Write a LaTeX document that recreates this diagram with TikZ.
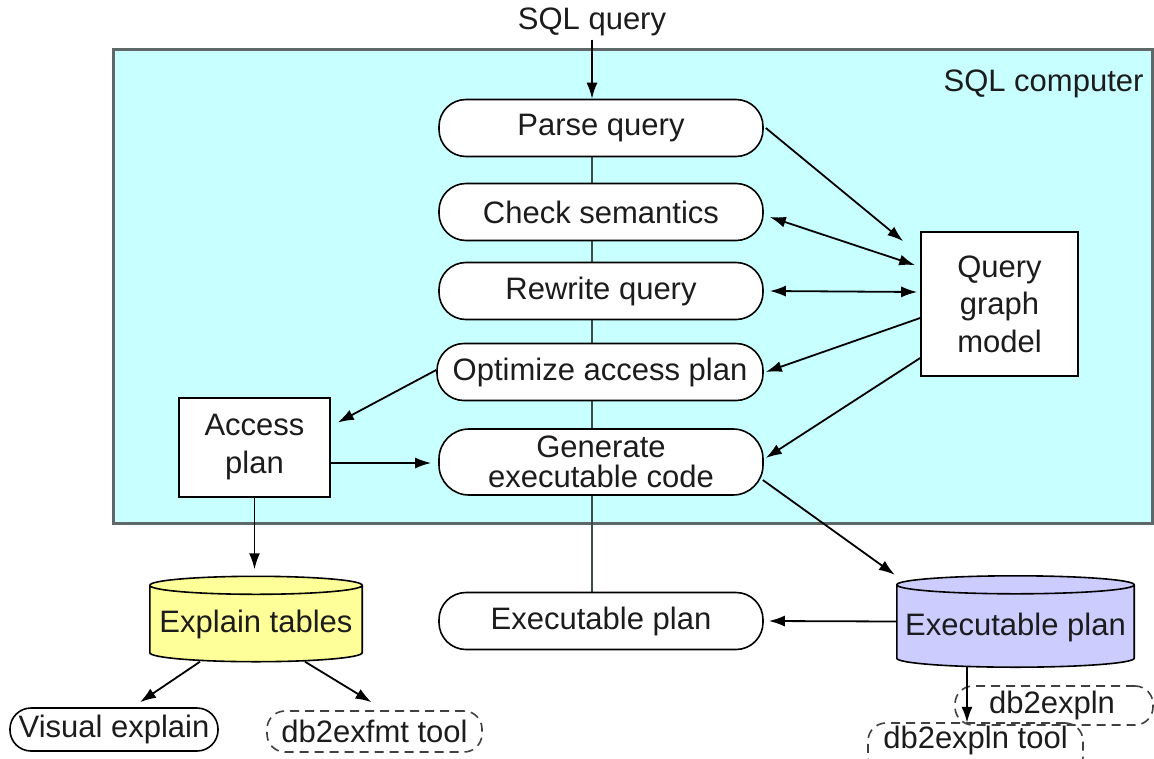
\documentclass[tikz,border=0pt]{standalone}
\usepackage{fontspec}
\setmainfont{Liberation Sans}
\usetikzlibrary{arrows.meta,calc}
\pgfdeclarelayer{background}
\pgfsetlayers{background,main}

\definecolor{panelfill}{HTML}{C8FFFF}
\definecolor{panelline}{HTML}{5E6868}
\definecolor{tablefill}{HTML}{FFFF99}
\definecolor{planfill}{HTML}{CCCCFF}
\definecolor{ink}{HTML}{1C1C1C}
\definecolor{spinegray}{HTML}{3E4A4A}

% Drum-shaped data store drawn behind the node #1 (end radius #2, fill #3)
\newcommand\drumshape[3]{%
  \path[fill=#3, draw=black, line width=1.6pt]
    let \p1=(#1.north west), \p2=(#1.south east), \n1={(\x2-\x1)/2} in
    (\x1,\y1-#2) -- (\x1,\y2+#2)
      arc[start angle=180, end angle=360, x radius=\n1, y radius=#2]
      -- (\x2,\y1-#2)
      arc[start angle=0, end angle=180, x radius=\n1, y radius=#2]
      -- cycle
    (\x1,\y1-#2) arc[start angle=180, end angle=360, x radius=\n1, y radius=#2];
}

\begin{document}
\begin{tikzpicture}[x=1pt, y=-1pt,
  txt/.style={font=\fontsize{31}{38}\selectfont, text=ink},
  pill/.style={txt, draw=black, line width=1.6pt, fill=white,
    rounded corners=27pt, minimum width=324pt, minimum height=57pt,
    inner sep=0pt, align=center},
  plainbox/.style={txt, draw=black, line width=1.6pt, fill=white,
    inner sep=0pt, align=center},
  toolbox/.style={txt, draw=black!75, line width=1.6pt, dash pattern=on 9pt off 6pt,
    rounded corners=18pt, inner sep=0pt},
  drum/.style={txt, inner sep=0pt},
  tip/.style={Latex[length=16pt,width=11pt]},
  arr/.style={-{Latex[length=16pt,width=11pt]}, line width=1.8pt, draw=black},
  darr/.style={{Latex[length=16pt,width=11pt]}-{Latex[length=16pt,width=11pt]},
    line width=1.8pt, draw=black},
]
\useasboundingbox (0,0) rectangle (1154,758);
\clip (0,0) rectangle (1154,758);

% enclosing panel (outline and fill go on the background layer)
\node[minimum width=1038pt, minimum height=473pt, inner sep=0pt]
  (computer) at (633,286.5) {};
\node[txt, anchor=east] (computerlabel) at (1147,84) {SQL computer};

% input
\node[txt] (sql) at (592,22) {SQL query};

% compilation steps
\node[pill] (parse) at (601,128) {Parse query};
\node[pill] (check) at (601,212) {Check semantics};
\node[pill] (rewrite) at (601,291) {Rewrite query};
\node[pill, minimum width=326pt] (optimize) at (600,372) {Optimize access plan};
\node[pill, minimum height=66pt, rounded corners=30pt,
  font=\fontsize{31}{30}\selectfont] (generate) at (601,462)
  {Generate\\executable code};
\node[pill] (execpill) at (601,621) {Executable plan};

% side boxes
\node[plainbox, minimum width=157pt, minimum height=144pt,
  font=\fontsize{31}{37.5}\selectfont] (qgm) at (999.5,304) {Query\\graph\\model};
\node[plainbox, minimum width=151pt, minimum height=99pt] (access)
  at (254.5,447.5) {Access\\plan};

% data stores
\node[drum, minimum width=212pt, minimum height=85pt] (explain) at (256,619) {};
\node[drum, minimum width=237pt, minimum height=91pt] (execdb) at (1015.5,621.5) {};

% tools
\node[txt, draw=black, line width=1.6pt, rounded corners=21pt,
  minimum width=208pt, minimum height=43pt, inner sep=0pt] (visual)
  at (114,729.5) {Visual explain};
\node[toolbox, minimum width=215pt, minimum height=41pt] (exfmt)
  at (374.5,731.5) {db2exfmt tool};
\node[toolbox, minimum width=198pt, minimum height=39pt, text width=190pt,
  align=right] (expln) at (1054,705.5) {db2expln\hspace*{34pt}};
\node[toolbox, minimum width=215pt, minimum height=52pt] (explntool)
  at (975.5,749) {};
\node[txt] (explntooltext) at (975.5,740) {db2expln tool};

% panel, spine and drums sit underneath the nodes
\begin{pgfonlayer}{background}
  \fill[panelfill] (computer.north west) rectangle (computer.south east);
  \draw[panelline, line width=3pt] (computer.north west) rectangle (computer.south east);
  \draw[spinegray, line width=2pt] ([xshift=-9pt]parse.south) -- ([xshift=-9pt]execpill.north);
  \drumshape{explain}{9pt}{tablefill}
  \drumshape{execdb}{9pt}{planfill}
\end{pgfonlayer}

% drum labels on top of their fills
\node[txt] (explainlabel) at ([yshift=-5pt]explain.center) {Explain tables};
\node[txt] (execdblabel) at ([yshift=-6pt]execdb.center) {Executable plan};

% connectors (shift offsets in picture units: y grows downward)
\draw[arr] (sql.south) -- (sql.south |- parse.north);
\draw[arr] ([xshift=2pt]parse.east) -- ([shift={(-17,10)}]qgm.north west);
\draw[darr] ([shift={(6,5)}]check.east) -- ([shift={(-5,34)}]qgm.north west);
\draw[darr] ([xshift=6pt]rewrite.east) -- ([shift={(-3,-12)}]qgm.west);
\draw[arr] ([shift={(0,14)}]qgm.west) -- ([xshift=2pt]optimize.east);
\draw[arr] ([shift={(0,54)}]qgm.west) -- ([shift={(2,-4)}]generate.east);
\draw[arr] ([shift={(0,-2)}]optimize.west) -- ([shift={(7,-25)}]access.east);
\draw[arr] ([shift={(0,15.5)}]access.east) -- ([shift={(-7,1)}]generate.west);
\draw[arr] ([shift={(-1,18)}]generate.east) -- ([shift={(-2,-1)}]execdb.north west);
\draw[arr] (execdb.west) -- ([xshift=5pt]execpill.east);
\draw[arr, shorten >=7pt] (access.south) -- (access.south |- explain.north);
\draw[arr] ([xshift=-56pt]explain.south) -- ([shift={(26,-5)}]visual.north);
\draw[arr] ([xshift=49pt]explain.south) -- ([shift={(-3,-8)}]exfmt.north);
\draw[arr] ([xshift=-48.5pt]execdb.south) -- ([shift={(-87,-3)}]expln.south);
\end{tikzpicture}
\end{document}
